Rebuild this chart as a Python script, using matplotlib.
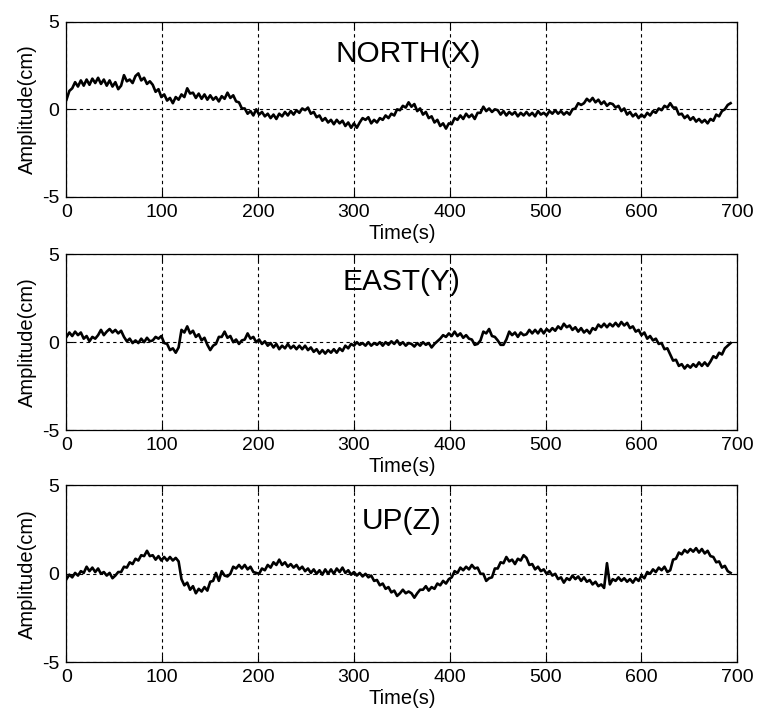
import numpy as np
import matplotlib
matplotlib.use("Agg")
from matplotlib import pyplot as plt

plt.rcParams["font.family"] = ["Liberation Sans", "DejaVu Sans"]
plt.rcParams["axes.unicode_minus"] = False

# sample times (s), one reading every 3 s
time_s = np.arange(0, 694, 3)

north_x = [
    0.55, 1.05, 1.2, 1.55, 1.3, 1.65, 1.35, 1.7, 1.4, 1.75,
    1.5, 1.8, 1.45, 1.7, 1.35, 1.65, 1.3, 1.55, 1.15, 1.35,
    1.95, 1.6, 1.7, 1.5, 1.9, 2.05, 1.65, 1.8, 1.45, 1.6,
    1.4, 1.0, 1.15, 0.7, 0.85, 0.5, 0.65, 0.35, 0.7, 0.55,
    0.85, 0.7, 1.2, 0.9, 0.95, 0.65, 0.9, 0.6, 0.85, 0.55,
    0.8, 0.55, 0.7, 0.45, 0.75, 0.6, 0.95, 0.65, 0.8, 0.45,
    0.4, 0.05, 0.05, -0.25, -0.1, -0.35, 0.0, -0.3, -0.15, -0.4,
    -0.25, -0.5, -0.3, -0.55, -0.25, -0.4, -0.15, -0.35, -0.1, -0.3,
    -0.05, -0.2, 0.05, -0.05, 0.1, -0.25, -0.15, -0.45, -0.35, -0.65,
    -0.5, -0.75, -0.6, -0.85, -0.6, -0.8, -0.65, -0.95, -0.75, -1.05,
    -0.8, -1.05, -0.75, -0.5, -0.6, -0.45, -0.8, -0.6, -0.75, -0.5,
    -0.6, -0.35, -0.5, -0.25, -0.35, 0.0, -0.05, 0.2, 0.1, 0.4,
    0.15, 0.3, -0.1, 0.05, -0.3, -0.15, -0.5, -0.4, -0.75, -0.6,
    -0.95, -0.8, -1.1, -0.8, -0.85, -0.5, -0.6, -0.35, -0.55, -0.25,
    -0.45, -0.3, -0.55, -0.2, -0.2, 0.15, -0.1, 0.05, -0.15, 0.0,
    -0.05, -0.3, -0.1, -0.35, -0.15, -0.3, -0.15, -0.4, -0.2, -0.35,
    -0.15, -0.35, -0.2, -0.4, -0.1, -0.3, -0.2, -0.35, -0.1, -0.25,
    -0.05, -0.25, -0.1, -0.3, -0.15, -0.3, 0.0, 0.05, 0.35, 0.25,
    0.35, 0.6, 0.45, 0.65, 0.4, 0.55, 0.3, 0.45, 0.2, 0.35,
    0.3, 0.1, 0.2, -0.1, 0.05, -0.3, -0.15, -0.4, -0.25, -0.5,
    -0.3, -0.45, -0.2, -0.35, -0.1, -0.2, 0.05, -0.05, 0.2, 0.1,
    0.35, 0.1, 0.1, -0.3, -0.25, -0.5, -0.35, -0.6, -0.45, -0.7,
    -0.55, -0.75, -0.6, -0.8, -0.55, -0.65, -0.3, -0.4, -0.1, 0.0,
    0.25, 0.35,
]

east_y = [
    0.3, 0.55, 0.35, 0.6, 0.4, 0.55, 0.2, 0.35, 0.05, 0.3,
    0.2, 0.4, 0.7, 0.4, 0.6, 0.75, 0.55, 0.7, 0.5, 0.65,
    0.3, 0.05, 0.2, -0.05, 0.1, -0.05, 0.2, 0.0, 0.25, 0.05,
    0.1, 0.3, 0.2, 0.35, -0.05, -0.1, -0.45, -0.35, -0.6, -0.3,
    0.7, 0.55, 0.9, 0.5, 0.65, 0.3, 0.45, 0.1, 0.25, -0.15,
    -0.45, -0.2, -0.1, 0.3, 0.3, 0.6, 0.25, 0.35, 0.0, 0.15,
    -0.1, 0.1, 0.15, 0.5, 0.2, 0.3, 0.0, 0.15, -0.1, 0.05,
    -0.2, -0.05, -0.3, -0.1, -0.4, -0.2, -0.35, -0.1, -0.35, -0.2,
    -0.4, -0.2, -0.4, -0.2, -0.45, -0.3, -0.55, -0.4, -0.65, -0.45,
    -0.65, -0.45, -0.6, -0.4, -0.6, -0.35, -0.5, -0.2, -0.35, -0.1,
    -0.2, 0.0, -0.15, -0.05, -0.2, 0.0, -0.2, -0.05, -0.15, 0.0,
    -0.2, 0.0, -0.15, 0.05, -0.1, 0.1, -0.15, 0.0, -0.2, -0.05,
    -0.1, -0.25, -0.05, -0.2, 0.0, -0.15, -0.05, -0.3, -0.1, 0.05,
    0.2, 0.4, 0.3, 0.5, 0.35, 0.6, 0.35, 0.5, 0.25, 0.4,
    0.2, 0.15, -0.15, -0.1, 0.1, 0.6, 0.5, 0.75, 0.35, 0.3,
    0.1, -0.15, -0.15, 0.15, 0.6, 0.4, 0.55, 0.3, 0.55, 0.4,
    0.45, 0.7, 0.5, 0.7, 0.5, 0.75, 0.5, 0.75, 0.6, 0.8,
    0.65, 0.9, 0.75, 1.05, 0.85, 0.95, 0.7, 0.85, 0.6, 0.8,
    0.55, 0.7, 0.5, 0.8, 0.7, 1.0, 0.85, 1.05, 0.85, 1.05,
    0.9, 1.1, 0.9, 1.15, 0.95, 1.1, 0.8, 0.9, 0.6, 0.7,
    0.4, 0.55, 0.2, 0.35, 0.1, 0.2, -0.1, -0.05, -0.4, -0.35,
    -0.7, -1.05, -1.0, -1.35, -1.25, -1.5, -1.3, -1.45, -1.25, -1.4,
    -1.15, -1.35, -1.15, -1.35, -1.1, -0.8, -0.9, -0.6, -0.7, -0.35,
    -0.2, -0.05,
]

up_z = [
    -0.3, -0.05, -0.2, 0.05, -0.1, 0.15, 0.05, 0.4, 0.15, 0.35,
    0.1, 0.3, 0.0, 0.1, -0.1, 0.05, -0.25, -0.1, 0.1, 0.1,
    0.4, 0.35, 0.65, 0.55, 0.85, 0.75, 1.05, 1.0, 1.3, 1.0,
    1.05, 0.8, 1.0, 0.75, 0.95, 0.75, 0.95, 0.75, 0.9, 0.7,
    -0.3, -0.65, -0.5, -0.9, -0.7, -1.1, -0.85, -1.0, -0.75, -0.95,
    -0.45, -0.4, 0.05, -0.4, 0.15, -0.1, -0.15, 0.0, 0.4, 0.3,
    0.5, 0.3, 0.5, 0.25, 0.4, 0.1, 0.05, 0.0, 0.3, 0.2,
    0.5, 0.35, 0.65, 0.5, 0.8, 0.5, 0.65, 0.4, 0.55, 0.35,
    0.5, 0.25, 0.4, 0.15, 0.3, 0.05, 0.25, 0.0, 0.2, -0.05,
    0.25, 0.0, 0.25, 0.0, 0.3, 0.1, 0.35, 0.05, 0.2, -0.05,
    0.1, -0.1, 0.05, -0.15, 0.0, -0.2, -0.1, -0.4, -0.35, -0.65,
    -0.55, -0.85, -0.75, -1.05, -0.95, -1.25, -1.1, -0.9, -1.1, -1.0,
    -1.1, -1.35, -1.1, -0.9, -0.9, -0.7, -0.95, -0.75, -0.85, -0.55,
    -0.65, -0.4, -0.55, -0.3, -0.2, 0.15, 0.05, 0.35, 0.2, 0.4,
    0.25, 0.5, 0.3, 0.35, 0.0, 0.0, -0.4, -0.25, -0.2, 0.3,
    0.3, 0.65, 0.6, 0.95, 0.7, 0.8, 0.55, 0.85, 0.75, 1.05,
    0.9, 0.5, 0.55, 0.25, 0.4, 0.15, 0.25, 0.0, 0.15, -0.1,
    0.0, -0.3, -0.2, -0.5, -0.25, -0.35, -0.1, -0.3, -0.15, -0.4,
    -0.2, -0.45, -0.35, -0.6, -0.45, -0.7, -0.6, -0.8, 0.6, -0.6,
    -0.3, -0.4, -0.2, -0.4, -0.25, -0.45, -0.3, -0.5, -0.25, -0.4,
    -0.1, -0.25, 0.1, 0.0, 0.25, 0.1, 0.35, 0.2, 0.4, 0.1,
    0.2, 0.8, 0.85, 1.2, 1.1, 1.35, 1.2, 1.4, 1.25, 1.45,
    1.2, 1.4, 1.15, 1.3, 1.0, 0.95, 0.65, 0.7, 0.35, 0.45,
    0.15, 0.05,
]

panels = [
    ("NORTH(X)", north_x, 0.509, 0.77),
    ("EAST(Y)", east_y, 0.50, 0.797),
    ("UP(Z)", up_z, 0.50, 0.751),
]
bottoms = [0.7249, 0.3994, 0.0750]
heights = [0.2448, 0.2454, 0.2472]

fig = plt.figure(figsize=(7.58, 7.16), dpi=100)
for (name, values, tx, ty), bottom, height in zip(panels, bottoms, heights):
    ax = fig.add_axes([0.0877, bottom, 0.885, height])
    ax.plot(time_s, values, color="black", lw=1.9)
    ax.set_xlim(0, 700)
    ax.set_ylim(-5, 5)
    ax.set_xticks(range(0, 701, 100))
    ax.set_yticks([-5, 0, 5])
    ax.grid(True, color="black", ls=(0, (3, 3)), lw=0.8)
    ax.tick_params(direction="in", length=5, width=0.8, top=True, right=True,
                   labelsize=14, pad=5)
    for spine in ax.spines.values():
        spine.set_linewidth(0.9)
    ax.set_xlabel("Time(s)", fontsize=14.5, labelpad=2)
    ax.set_ylabel("Amplitude(cm)", fontsize=14.5, labelpad=4)
    ax.text(tx, ty, name, transform=ax.transAxes, ha="center", va="baseline",
            fontsize=21.5)

fig.savefig("out.png", dpi=100, facecolor="white")
